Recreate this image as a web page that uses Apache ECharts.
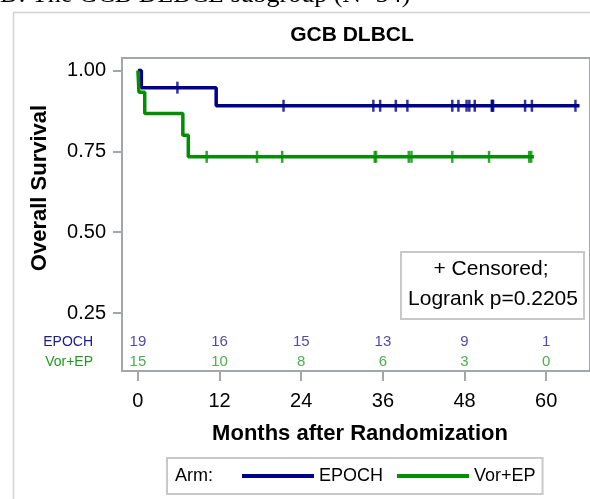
<!DOCTYPE html>
<html>
<head>
<meta charset="utf-8">
<script src="https://cdn.jsdelivr.net/npm/echarts@6/dist/echarts.min.js"></script>
<style>
html,body{margin:0;padding:0;background:#fff;}
#chart{width:590px;height:499px;}
</style>
</head>
<body>
<div id="chart"></div>
<script>
// ---- data ----
var armNames = ['EPOCH', 'Vor+EP'];
// Kaplan-Meier step points [month, survival]
var epochCurve = [[0, 1], [0.5, 0.947], [11.5, 0.891], [64.9, 0.891]];
var vorCurve = [[0, 1], [0.15, 0.933], [1.0, 0.867], [6.6, 0.8], [7.4, 0.733], [58.2, 0.733]];
// censoring times (months)
var epochCensor = [5.8, 21.4, 34.6, 35.6, 37.9, 39.6, 46.2, 47.1, 48.3, 48.7, 49.5, 52.0, 52.1, 52.2, 56.9, 57.9, 64.3];
var vorCensor = [10.1, 17.5, 21.2, 34.8, 35.0, 39.8, 40.2, 46.2, 51.6, 57.5, 57.8];
// numbers at risk
var riskTimes = [0, 12, 24, 36, 48, 60];
var epochRisk = [19, 16, 15, 13, 9, 1];
var vorRisk = [15, 10, 8, 6, 3, 0];
// tick labels
var xTicks = [0, 12, 24, 36, 48, 60];
var yTicks = [0.25, 0.5, 0.75, 1.0];

var BLUE = '#00008b', GREEN = '#008f00';
var BLUE_T = '#1a1a94', GREEN_T = '#1f9a1f';
var FONT = 'Liberation Sans, Arial, sans-serif';

function survAt(curve, t) {
  var s = curve[0][1];
  for (var i = 0; i < curve.length; i++) { if (curve[i][0] <= t) s = curve[i][1]; }
  return s;
}
function censorData(curve, times) { return times.map(function (t) { return [t, survAt(curve, t)]; }); }
function riskData(vals, rowY) { return riskTimes.map(function (t, i) { return [t, rowY, vals[i]]; }); }

var ROW1 = 0.160, ROW2 = 0.098;

var chart = echarts.init(document.getElementById('chart'), null, {renderer: 'canvas'});
var opt = {
  animation: false,
  backgroundColor: '#fff',
  grid: {left: 122, top: 58, width: 470, height: 313, show: true, borderColor: '#a3a6aa', borderWidth: 2, backgroundColor: 'transparent'},
  xAxis: {
    type: 'value', min: -2.342, max: 66.44,
    name: 'Months after Randomization', nameLocation: 'middle', nameGap: 52,
    nameTextStyle: {fontFamily: FONT, fontWeight: 'bold', fontSize: 22, color: '#000', padding: [0, 0, 0, 8]},
    axisLine: {show: true, onZero: false, lineStyle: {color: '#a3a6aa', width: 2}},
    axisTick: {show: true, length: 10, lineStyle: {color: '#a3a6aa', width: 2}, customValues: xTicks},
    axisLabel: {fontFamily: FONT, fontSize: 20, color: '#000', margin: 20, customValues: xTicks},
    splitLine: {show: false}
  },
  yAxis: {
    type: 'value', min: 0.0706, max: 1.0387,
    axisLine: {show: true, onZero: false, lineStyle: {color: '#a3a6aa', width: 2}},
    axisTick: {show: true, length: 9, lineStyle: {color: '#a3a6aa', width: 2}, customValues: yTicks},
    axisLabel: {fontFamily: FONT, fontSize: 20, color: '#000', margin: 16, customValues: yTicks,
      formatter: function (v) { return v.toFixed(2); }},
    splitLine: {show: false}
  },
  legend: {
    data: armNames, left: 167, top: 458, orient: 'horizontal',
    padding: [8, 7, 8, 75], itemGap: 14, itemTextGap: 10, itemWidth: 72, itemHeight: 4, icon: 'rect',
    borderColor: '#c8c8c8', borderWidth: 2, backgroundColor: '#fff',
    textStyle: {fontFamily: FONT, fontSize: 18, color: '#000', lineHeight: 20},
    selectedMode: false
  },
  series: [
    {name: armNames[0], type: 'line', step: 'end', data: epochCurve, showSymbol: false, symbol: 'none',
      lineStyle: {color: BLUE, width: 3.5}, itemStyle: {color: BLUE}, z: 3},
    {name: armNames[1], type: 'line', step: 'end', data: vorCurve, showSymbol: false, symbol: 'none',
      lineStyle: {color: GREEN, width: 3.5}, itemStyle: {color: GREEN}, z: 3},
    {name: 'EPOCH censored', type: 'scatter', data: censorData(epochCurve, epochCensor), symbol: 'rect',
      symbolSize: [2.5, 12], itemStyle: {color: BLUE}, z: 4},
    {name: 'Vor+EP censored', type: 'scatter', data: censorData(vorCurve, vorCensor), symbol: 'rect',
      symbolSize: [2.5, 12], itemStyle: {color: GREEN}, z: 4},
    {name: 'EPOCH at risk', type: 'scatter', data: riskData(epochRisk, ROW1), symbolSize: 0,
      label: {show: true, position: 'inside', formatter: function (p) { return p.value[2]; },
        fontFamily: FONT, fontSize: 15, color: BLUE_T}},
    {name: 'Vor+EP at risk', type: 'scatter', data: riskData(vorRisk, ROW2), symbolSize: 0,
      label: {show: true, position: 'inside', formatter: function (p) { return p.value[2]; },
        fontFamily: FONT, fontSize: 15, color: GREEN_T}}
  ],
  graphic: [
    {type: 'rect', left: 11, top: 10, shape: {width: 600, height: 520}, style: {fill: 'none', stroke: '#d2d2d2', lineWidth: 1.5}, z: -10, silent: true},
    {type: 'text', x: 0, y: -18, style: {text: 'D. The GCB DLBCL subgroup (N=34)', font: '26px "Liberation Serif", serif', fill: '#000'}},
    {type: 'text', x: 352, y: 35, style: {text: 'GCB DLBCL', font: 'bold 21px ' + FONT, fill: '#000', textAlign: 'center', textVerticalAlign: 'middle'}},
    {type: 'text', x: 40, y: 188, rotation: Math.PI / 2, style: {text: 'Overall Survival', font: 'bold 22px ' + FONT, fill: '#000', textAlign: 'center', textVerticalAlign: 'middle'}},
    {type: 'text', x: 93, y: 342, style: {text: 'EPOCH', font: '14px ' + FONT, fill: BLUE_T, textAlign: 'right', textVerticalAlign: 'middle'}},
    {type: 'text', x: 93, y: 362, style: {text: 'Vor+EP', font: '14px ' + FONT, fill: GREEN_T, textAlign: 'right', textVerticalAlign: 'middle'}},
    {type: 'rect', shape: {x: 401, y: 252, width: 183, height: 67}, style: {fill: '#fff', stroke: '#c8c8c8', lineWidth: 2}, z: 5},
    {type: 'text', x: 491, y: 269, style: {text: '+ Censored;', font: '21px ' + FONT, fill: '#000', textAlign: 'center', textVerticalAlign: 'middle'}, z: 6},
    {type: 'text', x: 493, y: 299, style: {text: 'Logrank p=0.2205', font: '21px ' + FONT, fill: '#000', textAlign: 'center', textVerticalAlign: 'middle'}, z: 6},
    {type: 'text', x: 175, y: 476, style: {text: 'Arm:', font: '18px ' + FONT, fill: '#000', textVerticalAlign: 'middle'}, z: 10}
  ]
};
chart.setOption(opt);
</script>
</body>
</html>
